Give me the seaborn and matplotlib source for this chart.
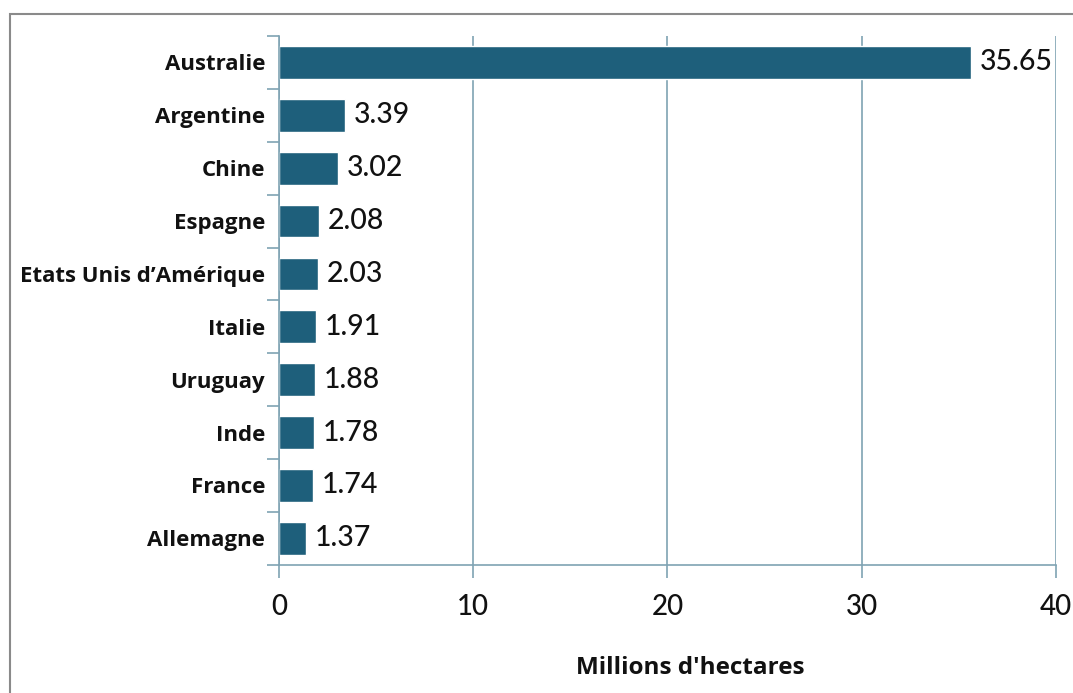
import matplotlib
matplotlib.use("Agg")
import matplotlib.pyplot as plt
import seaborn as sns
import pandas as pd
import numpy as np
from matplotlib.patches import Rectangle

pays = ['Australie', 'Argentine', 'Chine', 'Espagne', "Etats Unis d\u2019Amérique",
        'Italie', 'Uruguay', 'Inde', 'France', 'Allemagne']
surfaces = [35.65, 3.39, 3.02, 2.08, 2.03, 1.91, 1.88, 1.78, 1.74, 1.37]
x_ticks = [0, 10, 20, 30, 40]

BAR_COLOR = '#1E5F7B'
GRID_COLOR = '#7FA3B3'

sns.set_theme(style='white')
plt.rcParams['font.family'] = ['Open Sans', 'DejaVu Sans']

df = pd.DataFrame({'pays': pays, 'surface': surfaces})

fig = plt.figure(figsize=(10.73, 6.93), dpi=100)
ax = fig.add_axes([0.26, 0.185, 0.724, 0.763])

sns.barplot(data=df, x='surface', y='pays', order=pays, color=BAR_COLOR,
            saturation=1, width=0.62, ax=ax)

ax.set_xlim(0, 40)
ax.set_ylim(len(pays) - 0.5, -0.5)
ax.set_xticks(x_ticks)
ax.set_xticklabels([str(t) for t in x_ticks], fontfamily='Lato', fontsize=20,
                   fontweight='medium', color='#111111')
ax.tick_params(axis='x', length=9, width=1.2, color=GRID_COLOR, pad=12, bottom=True)

# category labels, ticks at boundaries
ax.set_yticks(range(len(pays)))
ax.set_yticklabels(pays, fontweight='bold', fontsize=16, color='#111111')
ax.tick_params(axis='y', which='major', length=0, pad=10)
ax.set_yticks(np.arange(-0.5, len(pays), 1), minor=True)
ax.tick_params(axis='y', which='minor', length=9, width=1.2, color=GRID_COLOR, left=True)

ax.xaxis.grid(True, color=GRID_COLOR, linewidth=1.2)
ax.yaxis.grid(False)
ax.set_axisbelow(True)
for side in ['top', 'right']:
    ax.spines[side].set_visible(False)
for side in ['left', 'bottom']:
    ax.spines[side].set_color(GRID_COLOR)
    ax.spines[side].set_linewidth(1.2)

ax.set_xlabel('')
ax.set_ylabel('')

for i, v in enumerate(surfaces):
    ax.text(v + 0.45, i, f'{v:.2f}', va='center', ha='left',
            fontfamily='Lato', fontsize=20.5, fontweight='medium', color='#111111')

fig.text(0.643, 0.036, "Millions d'hectares", ha='center', va='center',
         fontweight='bold', fontsize=17.5, color='#111111')

# outer frame (runs off the right and bottom edges)
fig.patches.append(Rectangle((10 / 1073, -0.1), 1.2, 1 - 14 / 693 + 0.1,
                             transform=fig.transFigure, fill=False,
                             edgecolor='#8a8a8a', linewidth=1.5))

fig.savefig('out.png', dpi=100)
